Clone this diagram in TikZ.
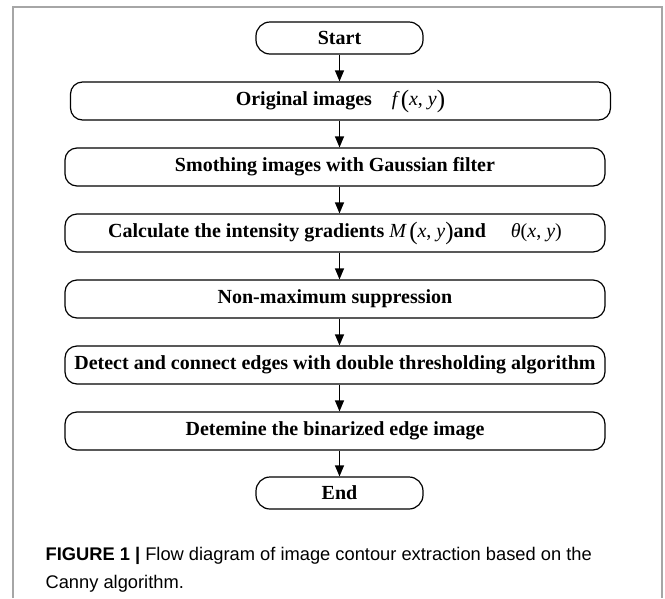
\documentclass[tikz,border=0pt]{standalone}
\usepackage{fontspec}
\setmainfont{Liberation Serif}
\newfontfamily\capfont{Liberation Sans}
\usetikzlibrary{shapes,arrows.meta}
\usetikzlibrary{positioning,calc}
\tikzstyle{startstop} = [rectangle,rounded corners=14pt,minimum width=167pt,minimum height=32pt,align=center,draw=black,line width=1.2pt,font=\bfseries\fontsize{20}{22}\selectfont]
\tikzstyle{process} = [rectangle,rounded corners=12pt,minimum width=540pt,minimum height=38pt,align=center,draw=black,line width=1.2pt,font=\bfseries\fontsize{20}{22}\selectfont]
\tikzstyle{captext} = [anchor=base west,inner sep=0pt,font=\capfont\fontsize{18.3}{20}\selectfont]
\tikzstyle{frameline} = [draw=black!35,line width=1.6pt]
\newcommand{\bigpar}[1]{\raisebox{-1.5pt}{\fontsize{25}{25}\selectfont #1}}
\newcommand{\mvar}[1]{{\itshape #1}}

\begin{document}
\begin{tikzpicture}[x=1pt,y=-1pt,>={Triangle[length=11pt,width=9pt]},line width=1.2pt,node distance=66pt]
\useasboundingbox (0,0) rectangle (665,598);

% frame round the figure
\draw[frameline] (12.7,598) -- (12.7,6.7) -- (661.7,6.7) -- (661.7,598);

\node (start) [startstop] at (339.5,38) {Start};
\node (orig) [process,below of=start,xshift=1pt,yshift=3pt] {Original images\quad{\mdseries\mvar{f}\,\bigpar{(}\mvar{x}, \mvar{y}\bigpar{)}}};
\node (smooth) [process,below of=orig,xshift=-5.5pt] {Smothing images with Gaussian filter};
\node (calc) [process,below of=smooth] {Calculate the intensity gradients {\mdseries\mvar{M}\,\bigpar{(}\mvar{x}, \mvar{y}\bigpar{)}}and\quad\ {\mdseries\mvar{θ}(\mvar{x}, \mvar{y})}};
\node (nonmax) [process,below of=calc] {Non-maximum suppression};
\node (detect) [process,below of=nonmax] {Detect and connect edges with double thresholding algorithm};
\node (binar) [process,below of=detect] {Detemine the binarized edge image};
\node (end) [startstop,below of=binar,xshift=4.5pt,yshift=4pt] {End};

\draw[->] (start) -- (start |- orig.north);
\foreach \a/\b in {orig/smooth,smooth/calc,calc/nonmax,nonmax/detect,detect/binar,binar/end}
{
	\draw[->] (\a.south -| start) -- (\b.north -| start);
}

\node (cap1) [captext] at (45,560.7) {\textbf{FIGURE 1 |} Flow diagram of image contour extraction based on the};
\node (cap2) [captext] at (45,588) {Canny algorithm.};

\end{tikzpicture}
\end{document}
